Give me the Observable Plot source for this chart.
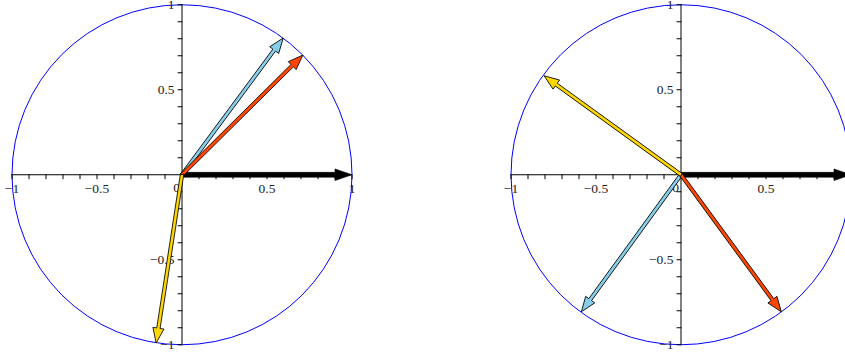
<!DOCTYPE html>
<html>
<head>
<meta charset="utf-8">
<script src="https://cdn.jsdelivr.net/npm/d3@7"></script>
<script src="https://cdn.jsdelivr.net/npm/@observablehq/plot@0.6"></script>
<style>
  html, body { margin: 0; padding: 0; background: #fff; }
  #wrap { position: relative; width: 845px; height: 353px; overflow: hidden; }
  #wrap svg { position: absolute; top: 0; }
</style>
</head>
<body>
<div id="wrap"></div>
<script>
// ---- data ----
const arrowColors = ["black", "#87ceeb", "#ff4500", "#ffd700"];
// left panel: arrow end points (black, blue, red, yellow)
const leftX = [1, 0.595, 0.711, -0.152];
const leftY = [0, 0.804, 0.704, -0.990];
// right panel: arrow end points (black, blue, red, yellow)
const rightX = [1, -0.586, 0.590, -0.805];
const rightY = [0, -0.806, -0.806, 0.582];
// axis ticks and labels
const minorTicks = [-1, -0.9, -0.8, -0.7, -0.6, -0.5, -0.4, -0.3, -0.2, -0.1, 0.1, 0.2, 0.3, 0.4, 0.5, 0.6, 0.7, 0.8, 0.9, 1];
const xLabels = [-1, -0.5, 0.5, 1];
const xOrigin = [0];
const yLabels = [-1, -0.5, 0.5, 1];

const fmt = d => (d < 0 ? "\u2212" : "") + Math.abs(d);
const FONT = "Liberation Serif";

function shapeArrow(w, h, hw) {
  return {
    draw(ctx, l) {
      const b = -(l - h);
      ctx.moveTo(-w, 0);
      ctx.lineTo(-w, b);
      ctx.lineTo(-hw, b);
      ctx.lineTo(0, -l);
      ctx.lineTo(hw, b);
      ctx.lineTo(w, b);
      ctx.lineTo(w, 0);
      ctx.closePath();
    }
  };
}
const colorShape = shapeArrow(1.7, 15, 5.6);
const blackShape = shapeArrow(2.4, 17, 5.8);
const tickShape = { draw(ctx, l) { ctx.moveTo(0, 0); ctx.lineTo(0, -l); } };

function panel(xs, ys, left) {
  const arrows = xs.map((x, i) => ({ x, y: ys[i], color: arrowColors[i] }));
  const len = d => Math.hypot(d.x, d.y);
  const rot = d => 90 - Math.atan2(d.y, d.x) * 180 / Math.PI;
  const txt = { fontFamily: FONT, fontSize: 13.5, fill: "#222", lineAnchor: "middle" };
  const svg = Plot.plot({
    width: 362,
    height: 353,
    marginLeft: 11.5,
    marginRight: 10.5,
    marginTop: 4.25,
    marginBottom: 8.75,
    x: { domain: [-1, 1], axis: null },
    y: { domain: [-1, 1], axis: null },
    length: { type: "linear", domain: [0, 1], range: [0, 170] },
    color: { type: "identity" },
    style: { fontFamily: FONT, fontSize: "13.5px", background: "transparent", overflow: "visible" },
    marks: [
      Plot.dot([0], { x: 0, y: 0, r: 170, stroke: "#0000ff", fill: "none", strokeWidth: 1 }),
      Plot.ruleY([0], { x1: -1, x2: 1, stroke: "black", strokeWidth: 1 }),
      Plot.ruleX([0], { y1: -1, y2: 1, stroke: "black", strokeWidth: 1 }),
      Plot.vector(minorTicks, { x: d => d, y: 0, length: 4, rotate: 180, anchor: "start", shape: tickShape, stroke: "black", strokeWidth: 1 }),
      Plot.vector(minorTicks, { x: 0, y: d => d, length: 4, rotate: 270, anchor: "start", shape: tickShape, stroke: "black", strokeWidth: 1 }),
      Plot.text(xLabels, { ...txt, x: d => d, y: 0, text: fmt, dy: 13.5, textAnchor: "middle" }),
      Plot.text(xOrigin, { ...txt, x: d => d, y: 0, text: fmt, dy: 12.5, dx: -5.5, textAnchor: "middle" }),
      Plot.text(yLabels, { ...txt, x: 0, y: d => d, text: fmt, dx: -7.5, textAnchor: "end" }),
      Plot.vector(arrows, { filter: d => d.color === "black", x: 0, y: 0, length: len, rotate: rot, anchor: "start", shape: blackShape, fill: "black", stroke: "black", strokeWidth: 0.6 }),
      Plot.vector(arrows, { filter: d => d.color !== "black", x: 0, y: 0, length: len, rotate: rot, anchor: "start", shape: colorShape, fill: d => d.color, stroke: "black", strokeWidth: 0.8 })
    ]
  });
  svg.style.left = left + "px";
  return svg;
}

const wrap = document.getElementById("wrap");
wrap.appendChild(panel(leftX, leftY, 0));
wrap.appendChild(panel(rightX, rightY, 499));
</script>
</body>
</html>
